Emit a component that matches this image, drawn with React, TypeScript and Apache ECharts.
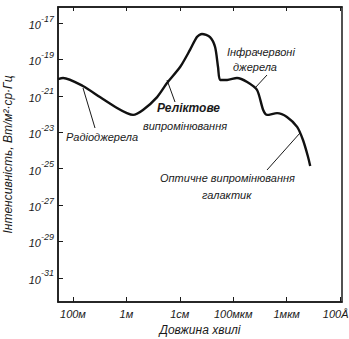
import React, { useEffect, useRef } from "react";
import * as echarts from "echarts";

// -log10(wavelength / m)  (axis runs from long to short wavelength)
const negLogWavelength = [-2.56, -2.37, -1.63, -0.99, -0.35, 0.02, 0.25, 0.62, 1.15, 1.52, 2.01, 2.38, 2.64, 2.83, 3.13, 3.32, 3.43, 3.51, 3.77, 4.14, 4.52, 4.89, 5.12, 5.27, 5.64, 6.01, 6.39, 6.61, 6.8, 6.88];
// log10(intensity, W/m²·sr·Hz)
const logIntensity = [-20.08, -20.02, -20.46, -21.07, -21.67, -21.95, -22.05, -21.78, -21.07, -20.3, -19.42, -18.48, -17.77, -17.6, -17.77, -18.32, -19.42, -20.13, -20.13, -20.02, -20.24, -20.68, -21.78, -22.05, -21.95, -22.16, -22.71, -23.43, -24.36, -24.86];

const xTickValues = [-2, 0, 2, 4, 6, 8];
const xTickLabels = ["100м", "1м", "1см", "100мкм", "1мкм", "100Å"];
const yTickValues = [-17, -19, -21, -23, -25, -27, -29, -31];

const FONT = "Liberation Sans";
const INK = "#1a1a1a";

export default function App() {
  const ref = useRef<HTMLDivElement>(null);
  useEffect(() => {
    if (!ref.current) return;
    const chart = echarts.init(ref.current, null, { renderer: "svg" });
    const textStyle = { fontFamily: FONT, fontStyle: "italic", fontSize: 11, fill: INK };
    const labelFont = { fontFamily: FONT, fontStyle: "italic", fontSize: 11, color: INK };
    chart.setOption({
      animation: false,
      backgroundColor: "#fff",
      grid: {
        left: 58, right: 7, top: 7, bottom: 37,
        outerBoundsMode: "none",
        containLabel: false,
        show: true, borderColor: INK, borderWidth: 1.5, backgroundColor: "transparent",
      },
      xAxis: [
        {
          type: "value",
          min: -2.56,
          max: 8.07,
          name: "Довжина хвилі",
          nameLocation: "middle",
          nameGap: 22,
          nameTextStyle: { fontFamily: FONT, fontStyle: "italic", fontSize: 12, color: INK },
          axisLine: { show: true, onZero: false, lineStyle: { color: INK, width: 1.5 } },
          axisTick: { show: true, inside: true, length: 5, customValues: xTickValues, lineStyle: { color: INK } },
          axisLabel: {
            customValues: xTickValues,
            margin: 6,
            ...labelFont,
            formatter: (v: number) => {
              const i = xTickValues.indexOf(Math.round(v));
              if (i < 0) return "";
              return i === xTickValues.length - 1 ? `{e|${xTickLabels[i]}}` : `{n|${xTickLabels[i]}}`;
            },
            rich: {
              n: { ...labelFont },
              e: { ...labelFont, padding: [0, 9, 0, 0] },
            },
          },
          splitLine: { show: false },
        },
        {
          type: "value",
          position: "top",
          min: -2.56,
          max: 8.07,
          axisLine: { show: true, onZero: false, lineStyle: { color: INK, width: 1.5 } },
          axisTick: { show: true, inside: true, length: 4, customValues: xTickValues, lineStyle: { color: INK } },
          axisLabel: { show: false },
          splitLine: { show: false },
        },
      ],
      yAxis: {
        type: "value",
        min: -32.33,
        max: -16.12,
        name: "Інтенсивність, Вт/м²·ср·Гц",
        nameLocation: "middle",
        nameRotate: 90,
        nameGap: 44,
        nameTextStyle: { fontFamily: FONT, fontStyle: "italic", fontSize: 12, color: INK },
        axisLine: { show: true, onZero: false, lineStyle: { color: INK, width: 1.5 } },
        axisTick: { show: true, inside: true, length: 5, customValues: yTickValues, lineStyle: { color: INK } },
        axisLabel: {
          customValues: yTickValues,
          margin: 4,
          color: INK,
          formatter: (v: number) => `{b|10}{s|${Math.round(v)}}`,
          rich: {
            b: { fontFamily: FONT, fontStyle: "italic", fontSize: 11, color: INK, padding: [4, 0, 0, 0] },
            s: { fontFamily: FONT, fontStyle: "italic", fontSize: 9, color: INK, padding: [0, 0, 9, 0] },
          },
        },
        splitLine: { show: false },
      },
      series: [
        {
          type: "line",
          xAxisIndex: 0,
          data: negLogWavelength.map((x, i) => [x, logIntensity[i]]),
          symbol: "none",
          smooth: 0.25,
          lineStyle: { color: "#111", width: 2.4 },
        },
      ],
      graphic: [
        { type: "line", shape: { x1: 83, y1: 88, x2: 95, y2: 128 }, style: { stroke: INK, lineWidth: 1 } },
        { type: "text", x: 66, y: 131, style: { ...textStyle, text: "Радіоджерела" } },
        { type: "line", shape: { x1: 167, y1: 80, x2: 175, y2: 102 }, style: { stroke: INK, lineWidth: 1 } },
        { type: "text", x: 157, y: 102, style: { ...textStyle, text: "Реліктове", fontWeight: "bold", fontSize: 12 } },
        { type: "text", x: 143, y: 120, style: { ...textStyle, text: "випромінювання" } },
        { type: "line", shape: { x1: 267, y1: 75, x2: 255, y2: 88 }, style: { stroke: INK, lineWidth: 1 } },
        { type: "text", x: 227, y: 46, style: { ...textStyle, text: "Інфрачервоні" } },
        { type: "text", x: 233, y: 61, style: { ...textStyle, text: "джерела" } },
        { type: "line", shape: { x1: 300, y1: 133, x2: 267, y2: 170 }, style: { stroke: INK, lineWidth: 1 } },
        { type: "text", x: 160, y: 172, style: { ...textStyle, text: "Оптичне випромінювання" } },
        { type: "text", x: 202, y: 189, style: { ...textStyle, text: "галактик" } },
      ],
    });
    return () => chart.dispose();
  }, []);
  return (
    <div
      ref={ref}
      style={{ position: "fixed", left: 0, top: 0, width: 349, height: 339, background: "#fff" }}
    />
  );
}
